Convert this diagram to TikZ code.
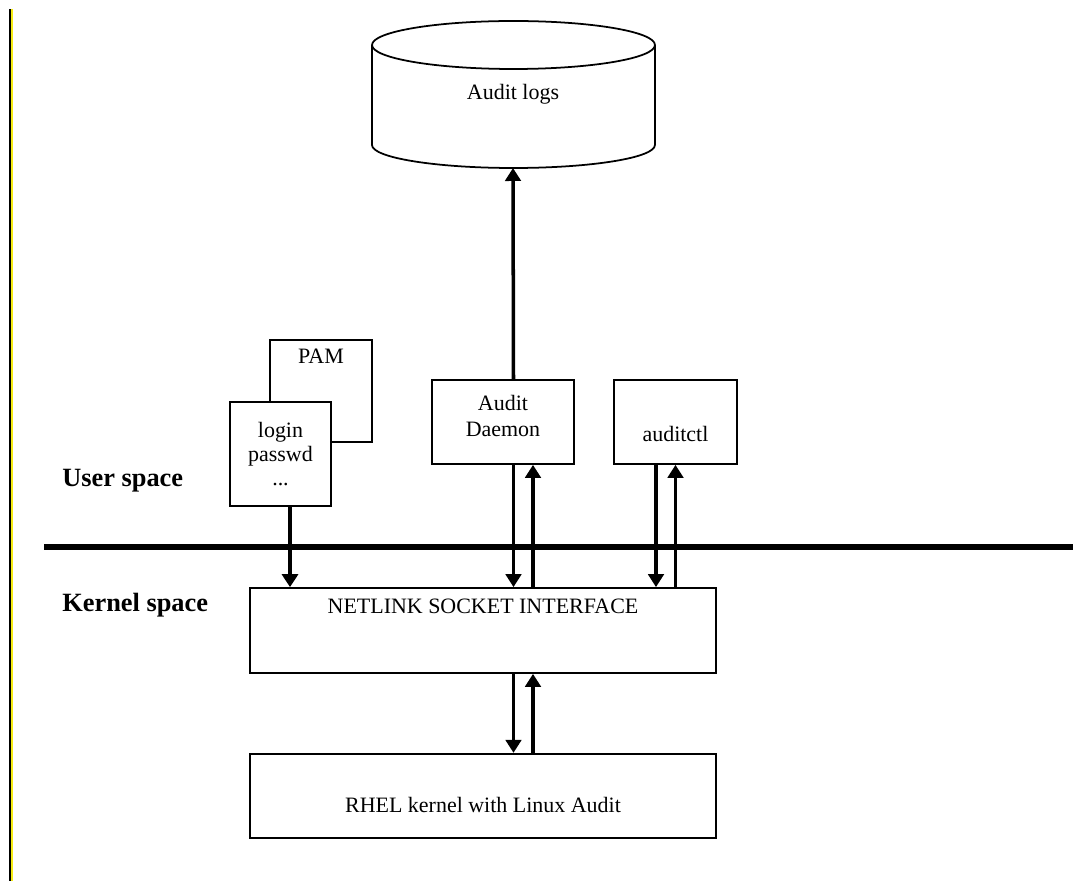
\documentclass[tikz,border=0pt]{standalone}
\usepackage{fontspec}
\setmainfont{Liberation Serif}
\usetikzlibrary{positioning,arrows.meta,calc}
\definecolor{EdgeYellow}{RGB}{245,235,20}
\tikzset{
  plain box/.style={
    draw=black,
    line width=1pt,
    fill=white,
    align=center,
    inner sep=0pt,
    font=\fontsize{12.5}{14.5}\selectfont
  },
  prog box/.style={plain box, minimum width=2.84cm, minimum height=1.68cm},
  kern box/.style={plain box, minimum width=9.32cm, minimum height=1.7cm},
  space label/.style={font=\fontsize{15}{18}\selectfont\bfseries, anchor=west, inner sep=0pt},
  flow arrow/.style={-{Triangle[length=2.6mm,width=3.1mm]}, line width=2pt},
  fat arrow/.style={-{Triangle[length=2.6mm,width=3.2mm]}, line width=2.8pt},
  divider/.style={line width=2.9pt}
}
\begin{document}
\begin{tikzpicture}[x=0.02cm, y=-0.02cm]
\useasboundingbox (0,0) rectangle (1073,881);
% left edge
\fill[black] (8.5,9) rectangle (10.5,881);
\fill[EdgeYellow] (10.5,9) rectangle (12.5,881);

% audit log store
\draw[line width=1pt, fill=white] (372,45) -- (372,145)
  arc[start angle=180, end angle=360, x radius=2.83cm, y radius=0.46cm]
  -- (655,45);
\draw[line width=1pt] (513.5,45) ellipse[x radius=2.83cm, y radius=0.48cm];
\node[font=\fontsize{12.5}{14.5}\selectfont] (logs) at (513,94) {Audit logs};
\coordinate (logsbase) at (513,168);

% user space programs
\node[plain box, minimum width=2.04cm, minimum height=2.04cm, text height=0.3cm, text depth=1.42cm] (pam) at (321,391) {PAM};
\node[plain box, minimum width=2.02cm, minimum height=2.08cm, font=\fontsize{12.5}{13.8}\selectfont] (login) at (280.5,454) {login\\passwd\\...};
\node[prog box, text depth=0.25cm] (daemon) at (503,422) {Audit\\Daemon};
\node[prog box, minimum width=2.46cm, text height=0.78cm, text depth=0cm] (ctl) at (675.5,422) {auditctl};

% kernel side
\node[kern box, text height=0.3cm, text depth=1.0cm] (netlink) at (483,630.5) {NETLINK SOCKET INTERFACE};
\node[kern box, minimum height=1.68cm, text height=0.76cm, text depth=0.08cm, below=1.58cm of netlink] (rhel) {RHEL kernel with Linux Audit};

% user / kernel split
\node[space label] (user) at (62,481) {User space};
\node[space label] (kernel) at (62,605) {Kernel space};
\coordinate (splitL) at (44,547);
\coordinate (splitR) at (1073,547);
\draw[divider] (splitL) -- (splitR);

% connectors
\coordinate (lg) at ($(login.south)+(9.5,0)$);
\coordinate (dd) at ($(daemon.south)+(10.5,0)$);
\coordinate (du) at ($(daemon.south)+(30,0)$);
\coordinate (cd) at ($(ctl.south)+(-19.5,0)$);
\coordinate (cu) at ($(ctl.south)+(0,0)$);
\draw[fat arrow] (lg) -- (lg |- netlink.north);
\draw[flow arrow] (dd) -- (dd |- netlink.north);
\draw[flow arrow] (du |- netlink.north) -- (du);
\draw[flow arrow] (cd) -- (cd |- netlink.north);
\draw[flow arrow] (cu |- netlink.north) -- (cu);
\draw[flow arrow] (dd |- netlink.south) -- (dd |- rhel.north);
\draw[flow arrow] (du |- rhel.north) -- (du |- netlink.south);
\draw[flow arrow] (dd |- daemon.north) -- (logsbase);
\end{tikzpicture}
\end{document}
